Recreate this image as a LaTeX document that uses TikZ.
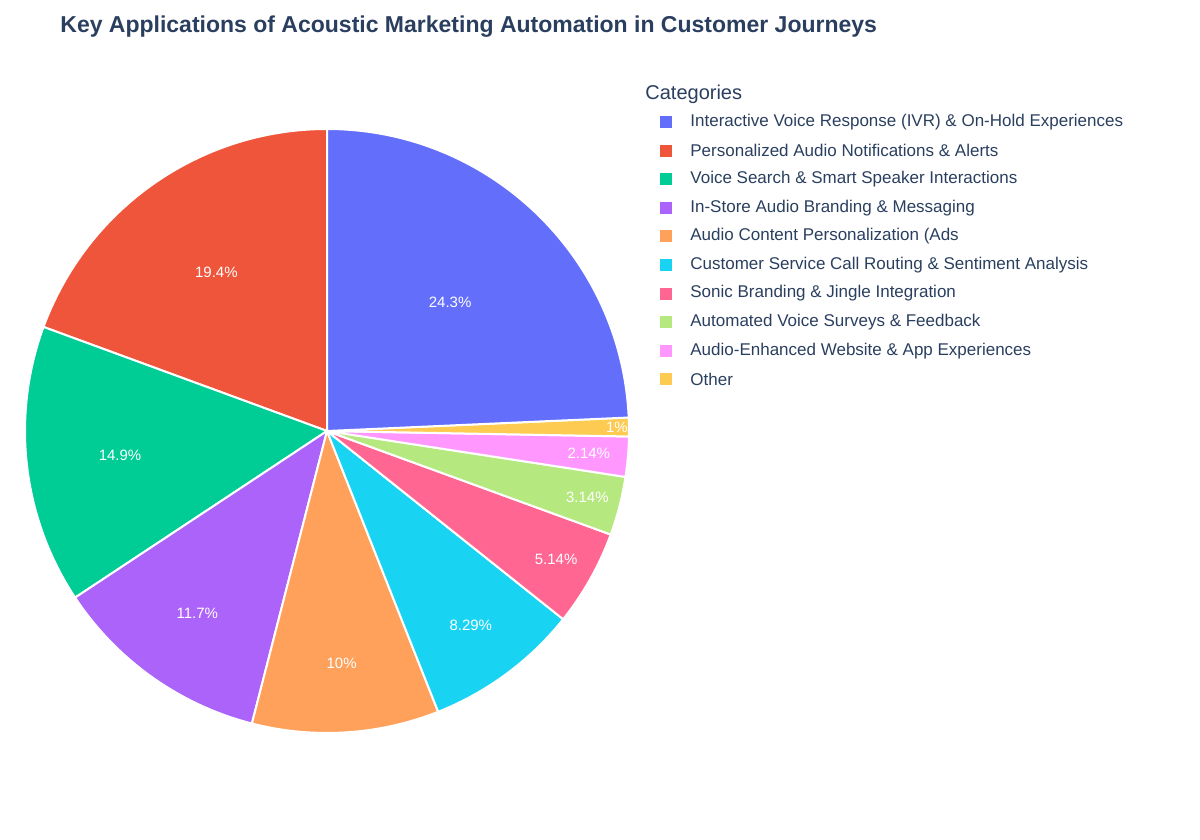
\documentclass[tikz,border=0pt]{standalone}
\usepackage{fontspec}
\setmainfont{Liberation Sans}
\usepackage{xcolor}
\usetikzlibrary{calc}
\definecolor{ink}{HTML}{2A3F5F}
\definecolor{cBlue}{HTML}{636EFA}
\definecolor{cRed}{HTML}{EF553B}
\definecolor{cGreen}{HTML}{00CC96}
\definecolor{cPurple}{HTML}{AB63FA}
\definecolor{cOrange}{HTML}{FFA15A}
\definecolor{cCyan}{HTML}{19D3F3}
\definecolor{cPink}{HTML}{FF6692}
\definecolor{cLime}{HTML}{B6E880}
\definecolor{cLight}{HTML}{FF97FF}
\definecolor{cYellow}{HTML}{FECB52}

\begin{document}
\begin{tikzpicture}[x=0.5pt,y=-0.5pt,
  slice/.style={draw=white,line width=1pt,line join=round},
  pct/.style={text=white,font=\fontsize{7.5}{9}\selectfont,inner sep=0pt},
  key/.style={anchor=west,text=ink,font=\fontsize{8.5}{10}\selectfont,inner sep=0pt}]
\useasboundingbox (0,0) rectangle (1200,840);
\node (title) [anchor=west,text=ink,font=\bfseries\fontsize{11.5}{14}\selectfont,inner sep=0pt] at (60,27) {Key Applications of Acoustic Marketing Automation in Customer Journeys};
\coordinate (c) at (327,431);

% slices, counterclockwise from the top
\foreach \a/\b/\col/\lab/\r in {90/159.84/cRed/19.4\%/0.64, 159.84/213.48/cGreen/14.9\%/0.69,
  213.48/255.6/cPurple/11.7\%/0.74, 255.6/291.6/cOrange/10\%/0.77, 291.6/321.44/cCyan/8.29\%/0.8,
  321.44/339.95/cPink/5.14\%/0.87, 339.95/351.25/cLime/3.14\%/0.89, 351.25/358.96/cLight/2.14\%/0.87,
  358.96/362.56/cYellow/1\%/0.96, 362.56/450/cBlue/24.3\%/0.59}
{
  \filldraw[slice,fill=\col] (c) -- ++(-\a:302) arc[start angle=-\a,end angle=-\b,radius=302] -- cycle;
  \node[pct] at ($(c)+({-(\a+\b)/2}:{\r*302})$) {\lab};
}

% legend
\node (cat) [key,font=\fontsize{10}{12}\selectfont] at (645,94) {Categories};
\foreach \col/\txt [count=\i] in {cBlue/Interactive Voice Response (IVR) \& On-Hold Experiences,
  cRed/Personalized Audio Notifications \& Alerts, cGreen/Voice Search \& Smart Speaker Interactions,
  cPurple/In-Store Audio Branding \& Messaging, cOrange/Audio Content Personalization (Ads/Recommendations),
  cCyan/Customer Service Call Routing \& Sentiment Analysis, cPink/Sonic Branding \& Jingle Integration,
  cLime/Automated Voice Surveys \& Feedback, cLight/Audio-Enhanced Website \& App Experiences, cYellow/Other}
{
  \fill[\col] ({660},{122+28.6*(\i-1)-6}) rectangle ++(12,12);
  \node (k\i) [key] at (690,{122+28.6*(\i-1)}) {\txt};
}
\end{tikzpicture}
\end{document}
